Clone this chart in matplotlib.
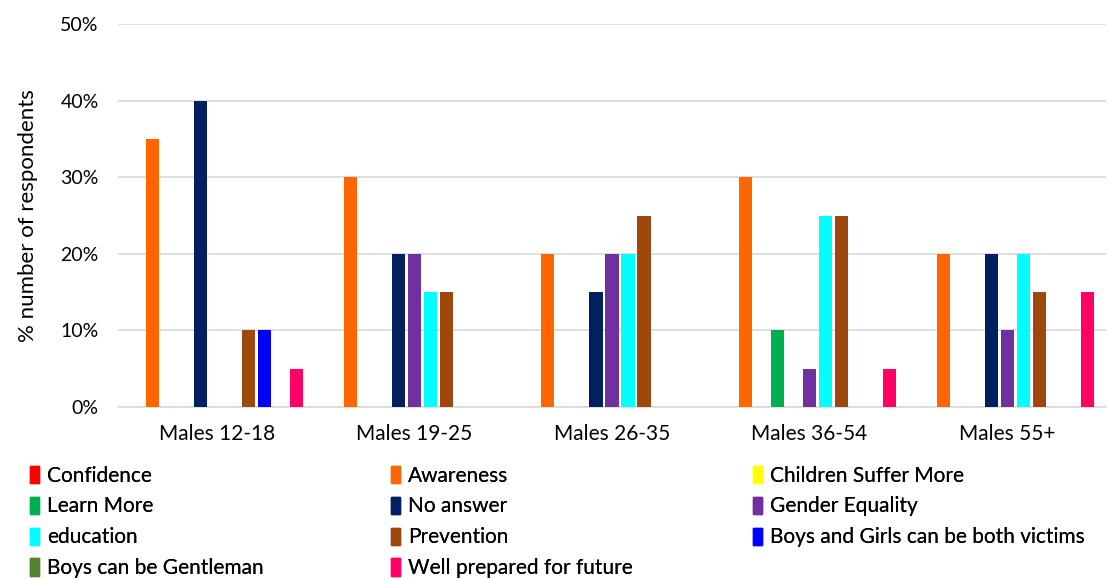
import matplotlib.pyplot as plt
import numpy as np
from matplotlib.patches import Patch

plt.rcParams['font.family'] = ['Lato', 'DejaVu Sans']

groups = ['Males 12-18', 'Males 19-25', 'Males 26-35', 'Males 36-54', 'Males 55+']
series = ['Confidence', 'Awareness', 'Children Suffer More', 'Learn More', 'No answer',
          'Gender Equality', 'education', 'Prevention', 'Boys and Girls can be both victims',
          'Boys can be Gentleman', 'Well prepared for future']
colors = ['#FF0000', '#FF6600', '#FFFF00', '#00B050', '#002060', '#7030A0',
          '#00FFFF', '#9E480E', '#0000FF', '#548235', '#FF0066']

# percent per series, one value per group
confidence = [0, 0, 0, 0, 0]
awareness = [35, 30, 20, 30, 20]
children_suffer = [0, 0, 0, 0, 0]
learn_more = [0, 0, 0, 10, 0]
no_answer = [40, 20, 15, 0, 20]
gender_equality = [0, 20, 20, 5, 10]
education = [0, 15, 20, 25, 20]
prevention = [10, 15, 25, 25, 15]
both_victims = [10, 0, 0, 0, 0]
gentleman = [0, 0, 0, 0, 0]
well_prepared = [5, 0, 0, 5, 15]

values = [confidence, awareness, children_suffer, learn_more, no_answer, gender_equality,
          education, prevention, both_victims, gentleman, well_prepared]

fig = plt.figure(figsize=(11.08, 5.79), dpi=100)
ax = fig.add_axes([118/1108, 1-407/579, 988/1108, 383/579])

x = np.arange(len(groups))
slot = 0.081
for i, (vals, c) in enumerate(zip(values, colors)):
    ax.bar(x + (i - 5)*slot, vals, width=0.066, color=c, zorder=3)

ax.set_xlim(-0.5, 4.5)
ax.set_ylim(0, 50)
ax.set_yticks(range(0, 51, 10))
ax.set_yticklabels(['{}%'.format(v) for v in range(0, 51, 10)])
ax.set_xticks(x)
ax.set_xticklabels(groups)
ax.tick_params(axis='x', length=0, labelsize=15, pad=12)
ax.tick_params(axis='y', length=0, labelsize=14, pad=14)
ax.yaxis.grid(True, color='#D9D9D9', linewidth=1.2, zorder=0)
for s in ['top', 'right', 'left']:
    ax.spines[s].set_visible(False)
ax.spines['bottom'].set_color('#D9D9D9')
ax.spines['bottom'].set_linewidth(1.2)
ax.set_ylabel('% number of respondents', fontsize=16, labelpad=16)

handles = [Patch(color=c, label=s) for s, c in zip(series, colors)]
# one legend per column, row-major order as in the original
col_x = [13, 374, 736]
for col in range(3):
    leg = fig.legend(handles=handles[col::3], loc='upper left',
                     bbox_to_anchor=(col_x[col]/1108, 1-449/579),
                     frameon=False, fontsize=15, handlelength=0.45, handleheight=0.9,
                     handletextpad=0.4, labelspacing=0.52, borderpad=0.3)
    fig.add_artist(leg)

fig.savefig('out.png', dpi=100)
